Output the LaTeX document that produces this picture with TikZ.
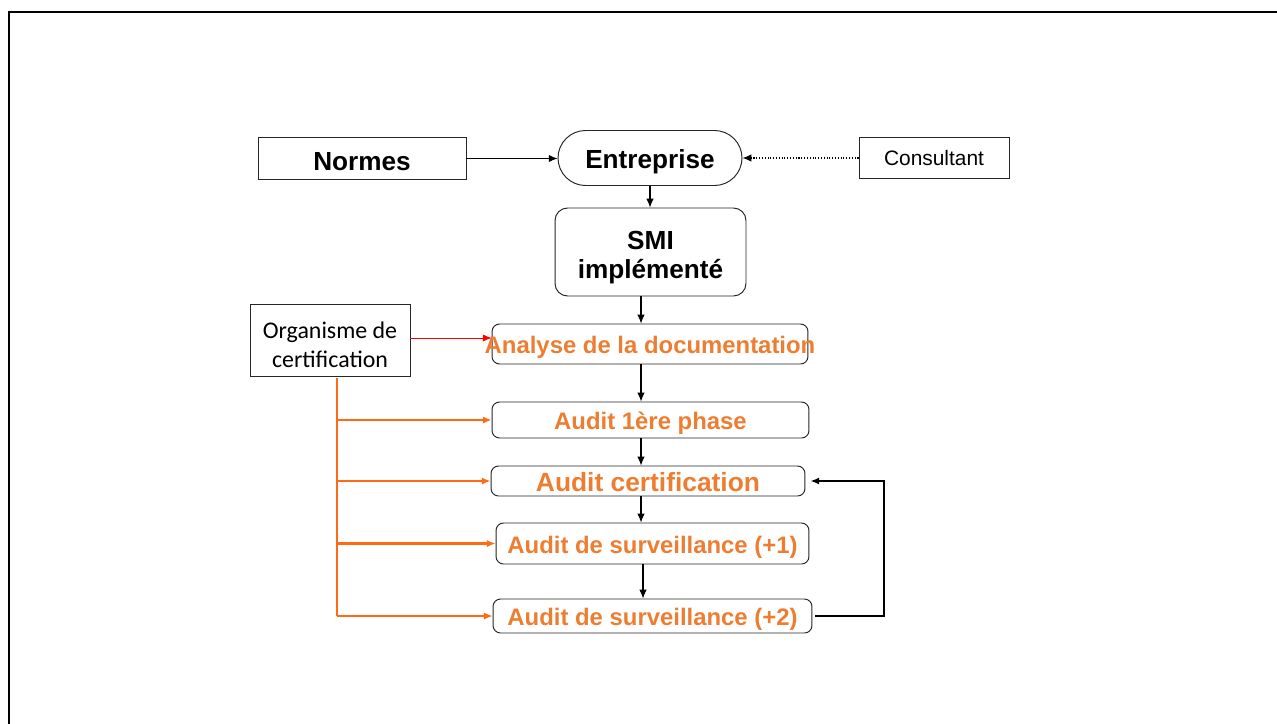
\documentclass[tikz,border=0pt]{standalone}
\usepackage{fontspec}
\setmainfont{Liberation Sans}
\newfontfamily\calfont{Carlito}
\usetikzlibrary{arrows.meta}
\definecolor{otext}{HTML}{ED7D31}
\definecolor{oline}{HTML}{FF6A13}
\definecolor{rline}{HTML}{FF0000}
\newcommand\lowr[2][0.07cm]{\raisebox{-#1}[\height][\depth]{#2}}
\tikzset{
  box/.style={draw=black!85, line width=0.55pt, inner sep=0pt, align=center},
  rbox/.style={box, rounded corners=0.15cm},
  big/.style={font=\fontsize{14.9}{17}\selectfont\bfseries},
  otxt/.style={text=otext, font=\fontsize{13.6}{16}\selectfont\bfseries},
  arr/.style={-{Latex[length=5pt,width=4.2pt]}, line width=0.6pt},
}
\begin{document}
\begin{tikzpicture}[x=0.02cm, y=-0.02cm]
\useasboundingbox (0,0) rectangle (1277,723);
% frame
\draw[line width=1.2pt] (9,730) -- (9,12) -- (1285,12);

% nodes
\node[box, big, minimum width=4.16cm, minimum height=0.84cm] (normes) at (362,158.5) {\lowr[0.06cm]{Normes}};
\node[box, big, rounded corners=0.55cm, minimum width=3.68cm, minimum height=1.10cm] (ent) at (650,158) {\lowr[0.08cm]{Entreprise}};
\node[box, font=\fontsize{11.9}{14}\selectfont, minimum width=3.0cm, minimum height=0.82cm] (cons) at (934,158) {Consultant};
\node[box, big, rounded corners=0.25cm, minimum width=3.82cm, minimum height=1.76cm] (smi) at (650.5,252) {\lowr[0.12cm]{\begin{tabular}{@{}c@{}}SMI\\implémenté\end{tabular}}};
\node[box, font=\calfont\fontsize{13.6}{16.4}\selectfont, minimum width=3.2cm, minimum height=1.44cm] (org) at (330,340) {\lowr[0.15cm]{\begin{tabular}{@{}c@{}}Organisme de\\certification\end{tabular}}};
\node[rbox, otxt, minimum width=6.32cm, minimum height=0.80cm] (ana) at (650,344) {\lowr{\makebox[0pt]{Analyse de la documentation}}};
\node[rbox, otxt, minimum width=6.34cm, minimum height=0.72cm] (a1) at (650.5,420) {\lowr[0.06cm]{\makebox[0pt]{Audit 1ère phase}}};
\node[rbox, otxt, font=\fontsize{15}{17}\selectfont\bfseries, minimum width=6.28cm, minimum height=0.60cm] (cert) at (648,481) {\lowr[0.02cm]{\makebox[0pt]{Audit certification}}};
\node[rbox, otxt, minimum width=6.26cm, minimum height=0.82cm] (s1) at (652.5,543.5) {\lowr{\makebox[0pt]{Audit de surveillance (+1)}}};
\node[rbox, otxt, minimum width=6.38cm, minimum height=0.68cm] (s2) at (652.5,616) {\lowr[0.06cm]{\makebox[0pt]{Audit de surveillance (+2)}}};

% top connectors
\draw[arr] (normes.east) -- (normes.east -| ent.west);
\draw[arr, densely dotted] (cons.west) -- (ent.east);
\draw[arr] (ent.south) -- (smi.north -| ent.south);

% vertical chain
\coordinate (vx) at (641,0);
\draw[arr] (smi.south -| vx) -- (ana.north -| vx);
\draw[arr] (ana.south -| vx) -- (a1.north -| vx);
\draw[arr] (a1.south -| vx) -- (cert.north -| vx);
\draw[arr] (cert.south -| vx) -- (s1.north -| vx);
\draw[arr] ([xshift=0.04cm]s1.south -| vx) -- ([xshift=0.04cm]s2.north -| vx);

% certification body
\draw[arr, draw=rline, fill=rline, line width=0.5pt] ([yshift=0.04cm]org.east) -- ([yshift=0.04cm]org.east -| ana.west);
\coordinate (bt) at (337,378);
\coordinate (bb) at (337,616);
\draw[oline, line width=1.2pt] (bt) -- (bb);
\draw[arr, draw=oline, fill=oline, line width=1.2pt] (bb) -- (s2.west);
\draw[arr, draw=oline, fill=oline, line width=1.2pt] (bt |- a1.west) -- (a1.west);
\draw[arr, draw=oline, fill=oline, line width=1.2pt] (bt |- cert.west) -- (cert.west);
\draw[arr, draw=oline, fill=oline, line width=1.2pt] (bt |- s1.west) -- (s1.west);

% feedback loop
\draw[arr, line width=1.1pt] ([xshift=0.06cm]s2.east) -- ++(69,0) |- ([xshift=0.1cm]cert.east);
\end{tikzpicture}
\end{document}
